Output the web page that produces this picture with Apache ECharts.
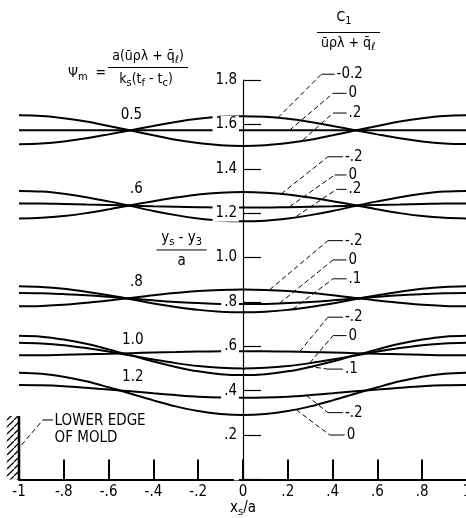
<!DOCTYPE html>
<html><head><meta charset="utf-8">
<script src="https://cdn.jsdelivr.net/npm/echarts@6/dist/echarts.min.js"></script>
<style>html,body{margin:0;padding:0;background:#fff}#c{width:466px;height:518px}</style>
</head><body><div id="c"></div>
<script>
// ---- data ----
const xs = [-1,-0.9,-0.8,-0.7,-0.6,-0.5,-0.4,-0.3,-0.2,-0.1,0,0.1,0.2,0.3,0.4,0.5,0.6,0.7,0.8,0.9,1];
const xTickLabels = ['-1','-.8','-.6','-.4','-.2','0','.2','.4','.6','.8','1'];
const yTickLabels = ['','.2','.4','.6','.8','1.0','1.2','1.4','1.6','1.8'];
const psiLabels = ['0.5','.6','.8','1.0','1.2'];
// Psi_m = 0.5
const psi05_cm02 = [1.511,1.514,1.523,1.537,1.555,1.574,1.593,1.611,1.625,1.634,1.637,1.634,1.625,1.611,1.593,1.574,1.555,1.537,1.523,1.514,1.511];
const psi05_c0   = [1.574,1.574,1.574,1.574,1.574,1.574,1.574,1.574,1.574,1.574,1.574,1.574,1.574,1.574,1.574,1.574,1.574,1.574,1.574,1.574,1.574];
const psi05_cp02 = [1.641,1.638,1.628,1.613,1.593,1.572,1.551,1.531,1.516,1.506,1.503,1.506,1.516,1.531,1.551,1.572,1.593,1.613,1.628,1.638,1.641];
// Psi_m = 0.6
const psi06_cm02 = [1.176,1.179,1.187,1.200,1.217,1.236,1.254,1.270,1.284,1.292,1.295,1.292,1.284,1.270,1.254,1.236,1.217,1.200,1.187,1.179,1.176];
const psi06_c0   = [1.243,1.243,1.241,1.239,1.237,1.234,1.231,1.229,1.227,1.225,1.225,1.225,1.227,1.229,1.231,1.234,1.237,1.239,1.241,1.243,1.243];
const psi06_cp02 = [1.300,1.297,1.287,1.272,1.253,1.232,1.210,1.191,1.176,1.166,1.163,1.166,1.176,1.191,1.210,1.232,1.253,1.272,1.287,1.297,1.300];
// Psi_m = 0.8
const psi08_cm02 = [0.780,0.782,0.787,0.796,0.806,0.818,0.830,0.840,0.849,0.854,0.856,0.854,0.849,0.840,0.830,0.818,0.806,0.796,0.787,0.782,0.780];
const psi08_c0   = [0.840,0.839,0.835,0.830,0.823,0.815,0.807,0.800,0.795,0.791,0.790,0.791,0.795,0.800,0.807,0.815,0.823,0.830,0.835,0.839,0.840];
const psi08_cp01 = [0.870,0.867,0.859,0.846,0.830,0.812,0.793,0.777,0.764,0.756,0.753,0.756,0.764,0.777,0.793,0.812,0.830,0.846,0.859,0.867,0.870];
// Psi_m = 1.0
const psi10_cm02 = [0.560,0.560,0.562,0.564,0.566,0.569,0.572,0.574,0.576,0.578,0.578,0.578,0.576,0.574,0.572,0.569,0.566,0.564,0.562,0.560,0.560];
const psi10_c0   = [0.616,0.613,0.605,0.592,0.576,0.558,0.540,0.524,0.511,0.503,0.500,0.503,0.511,0.524,0.540,0.558,0.576,0.592,0.605,0.613,0.616];
const psi10_cp01 = [0.647,0.643,0.630,0.611,0.586,0.559,0.531,0.507,0.487,0.474,0.470,0.474,0.487,0.507,0.531,0.559,0.586,0.611,0.630,0.643,0.647];
// Psi_m = 1.2
const psi12_cm02 = [0.425,0.424,0.420,0.413,0.405,0.397,0.388,0.380,0.373,0.369,0.368,0.369,0.373,0.380,0.388,0.397,0.405,0.413,0.420,0.424,0.425];
const psi12_c0   = [0.481,0.476,0.463,0.442,0.415,0.386,0.356,0.329,0.308,0.295,0.290,0.295,0.308,0.329,0.356,0.386,0.415,0.442,0.463,0.476,0.481];

const curves = [psi05_cm02,psi05_c0,psi05_cp02,psi06_cm02,psi06_c0,psi06_cp02,
  psi08_cm02,psi08_c0,psi08_cp01,psi10_cm02,psi10_c0,psi10_cp01,psi12_cm02,psi12_c0];

// ---- styling / annotation layout ----
const F = "'Liberation Sans Narrow','DejaVu Sans Condensed','Roboto Condensed',sans-serif";
const FS = 15;
const X_MIN = -1, X_MAX = 1, X_INT = 0.2, Y_MIN = 0, Y_INT = 0.2;
const GRID = {left: 19, top: 80, width: 448, height: 399.4};

const chart = echarts.init(document.getElementById('c'));
chart.setOption({
  animation: false,
  backgroundColor: '#fff',
  grid: Object.assign({containLabel: false, outerBoundsMode: 'none'}, GRID),
  xAxis: {
    type: 'value', min: X_MIN, max: X_MAX, interval: X_INT,
    axisLine: {onZero: false, lineStyle: {color: '#000', width: 2}},
    axisTick: {inside: true, length: 20, lineStyle: {color: '#000', width: 2}},
    axisLabel: {color: '#000', fontFamily: F, fontSize: FS, margin: 5, hideOverlap: false,
      formatter: v => xTickLabels[Math.round((v - X_MIN) / X_INT)] || ''},
    splitLine: {show: false}
  },
  yAxis: {
    type: 'value', min: 0, max: 1.8, interval: Y_INT, z: 5,
    // place the vertical axis at x = 0
    offset: -GRID.width * (0 - X_MIN) / (X_MAX - X_MIN),
    axisLine: {onZero: false, lineStyle: {color: '#000', width: 1.2}},
    axisTick: {inside: true, length: 18, lineStyle: {color: '#000', width: 1.2}},
    axisLabel: {color: '#000', fontFamily: F, fontSize: FS, margin: 4,
      backgroundColor: '#fff', padding: [1, 2, 1, 3],
      formatter: v => yTickLabels[Math.round((v - Y_MIN) / Y_INT)] || ''},
    splitLine: {show: false}
  },
  series: curves.map(c => ({
    type: 'line', data: xs.map((x, i) => [x, c[i]]), smooth: 0.35,
    showSymbol: false, silent: true, clip: false,
    lineStyle: {color: '#000', width: 2}
  }))
});

const P = (x, y) => chart.convertToPixel({gridIndex: 0}, [x, y]);
const rich = fs => ({
  t: {fontSize: fs, fontFamily: F, fill: '#000'},
  s: {fontSize: Math.round(fs * 0.75), fontFamily: F, fill: '#000', padding: [Math.round(fs * 0.55), 0, 0, 0]}
});
const txt = (x, y, text, align, fs, richText) => ({
  type: 'text', x, y, silent: true,
  style: richText ? {text, rich: rich(fs), align, verticalAlign: 'middle'}
                  : {text, fill: '#000', font: fs + 'px ' + F, align, verticalAlign: 'middle'}
});
const seg = (a, b, dashed, w) => ({
  type: 'line', silent: true,
  shape: {x1: a[0], y1: a[1], x2: b[0], y2: b[1]},
  style: {stroke: '#000', lineWidth: w || 1, lineDash: dashed ? [5, 3] : null}
});

const leaders = [
  {p: [[0.156, 1.630], [0.350, 1.826], [0.409, 1.826]], t: '-0.2'},
  {p: [[0.208, 1.574], [0.402, 1.740], [0.462, 1.740]], t: '0'},
  {p: [[0.268, 1.530], [0.402, 1.651], [0.462, 1.651]], t: '.2'},
  {p: [[0.171, 1.287], [0.379, 1.454], [0.446, 1.454]], t: '-.2'},
  {p: [[0.208, 1.229], [0.409, 1.372], [0.462, 1.372]], t: '0'},
  {p: [[0.238, 1.185], [0.417, 1.307], [0.462, 1.307]], t: '.2'},
  {p: [[0.119, 0.855], [0.379, 1.076], [0.446, 1.076]], t: '-.2'},
  {p: [[0.164, 0.794], [0.402, 0.989], [0.462, 0.989]], t: '0'},
  {p: [[0.223, 0.768], [0.402, 0.904], [0.462, 0.904]], t: '.1'},
  {p: [[0.253, 0.576], [0.379, 0.731], [0.446, 0.731]], t: '-.2'},
  {p: [[0.298, 0.525], [0.402, 0.648], [0.462, 0.648]], t: '0'},
  {p: [[0.290, 0.510], [0.379, 0.497], [0.446, 0.497]], t: '.1'},
  {p: [[0.283, 0.379], [0.379, 0.301], [0.446, 0.301]], t: '-.2'},
  {p: [[0.238, 0.314], [0.387, 0.200], [0.454, 0.200]], t: '0'}
];
const psiPos = [[-0.498, 1.642], [-0.476, 1.309], [-0.476, 0.891], [-0.492, 0.628], [-0.492, 0.463]];

const g = [];
leaders.forEach(l => {
  const a = P(...l.p[0]), b = P(...l.p[1]), c = P(...l.p[2]);
  g.push(seg(a, b, true), seg(b, c, false));
  g.push(txt(c[0] + 2, c[1], l.t, 'left', FS));
});
psiLabels.forEach((s, i) => {
  const p = P(...psiPos[i]);
  g.push(txt(p[0], p[1], s, 'center', FS));
});

// mold edge
const hatch = document.createElement('canvas');
hatch.width = 7; hatch.height = 7;
const hc = hatch.getContext('2d');
hc.strokeStyle = '#000'; hc.lineWidth = 1.3;
hc.beginPath(); hc.moveTo(-1, 8); hc.lineTo(8, -1); hc.stroke();
const m0 = P(-1.055, 0.286), m1 = P(-1, 0);
g.push({type: 'rect', silent: true, shape: {x: m0[0], y: m0[1], width: m1[0] - m0[0], height: m1[1] - m0[1]},
  style: {fill: {image: hatch, repeat: 'repeat'}, stroke: null}});
g.push(seg(P(-1, 0), P(-1, 0.286), false, 2.5));
const ml = [P(-0.989, 0.155), P(-0.893, 0.268), P(-0.848, 0.268)];
g.push(seg(ml[0], ml[1], true), seg(ml[1], ml[2], false));
const lt1 = P(-0.841, 0.262), lt2 = P(-0.841, 0.184);
g.push(txt(lt1[0], lt1[1], 'LOWER EDGE', 'left', FS));
g.push(txt(lt2[0], lt2[1], 'OF MOLD', 'left', FS));

// y-axis name (ys - y3)/a
const yn = P(-0.274, 1.088), ybA = P(-0.386, 1.034), ybB = P(-0.162, 1.034), ya = P(-0.274, 0.984);
g.push(txt(yn[0], yn[1], '{t|y}{s|s}{t| - y}{s|3}', 'center', FS, true));
g.push(seg(ybA, ybB, false, 1));
g.push(txt(ya[0], ya[1], 'a', 'center', FS));

// x-axis name
g.push(txt(243, 508, '{t|x}{s|s}{t|/a}', 'center', FS, true));

// Psi_m definition
g.push(txt(68, 73, '{t|Ψ}{s|m}{t|  =}', 'left', 14, true));
g.push(txt(148, 56, '{t|a(u\u0304ρλ + q\u0304}{s|ℓ}{t|)}', 'center', 14, true));
g.push({type: 'line', silent: true, shape: {x1: 108, y1: 67.5, x2: 188, y2: 67.5}, style: {stroke: '#000', lineWidth: 1}});
g.push(txt(146, 79, '{t|k}{s|s}{t|(t}{s|f}{t| - t}{s|c}{t|)}', 'center', 14, true));

// C1 header
g.push(txt(344, 17, '{t|C}{s|1}', 'center', 14, true));
g.push({type: 'line', silent: true, shape: {x1: 317, y1: 32.5, x2: 380, y2: 32.5}, style: {stroke: '#000', lineWidth: 1}});
g.push(txt(348, 43, '{t|u\u0304ρλ + q\u0304}{s|ℓ}', 'center', 14, true));

chart.setOption({graphic: g});
</script></body></html>
